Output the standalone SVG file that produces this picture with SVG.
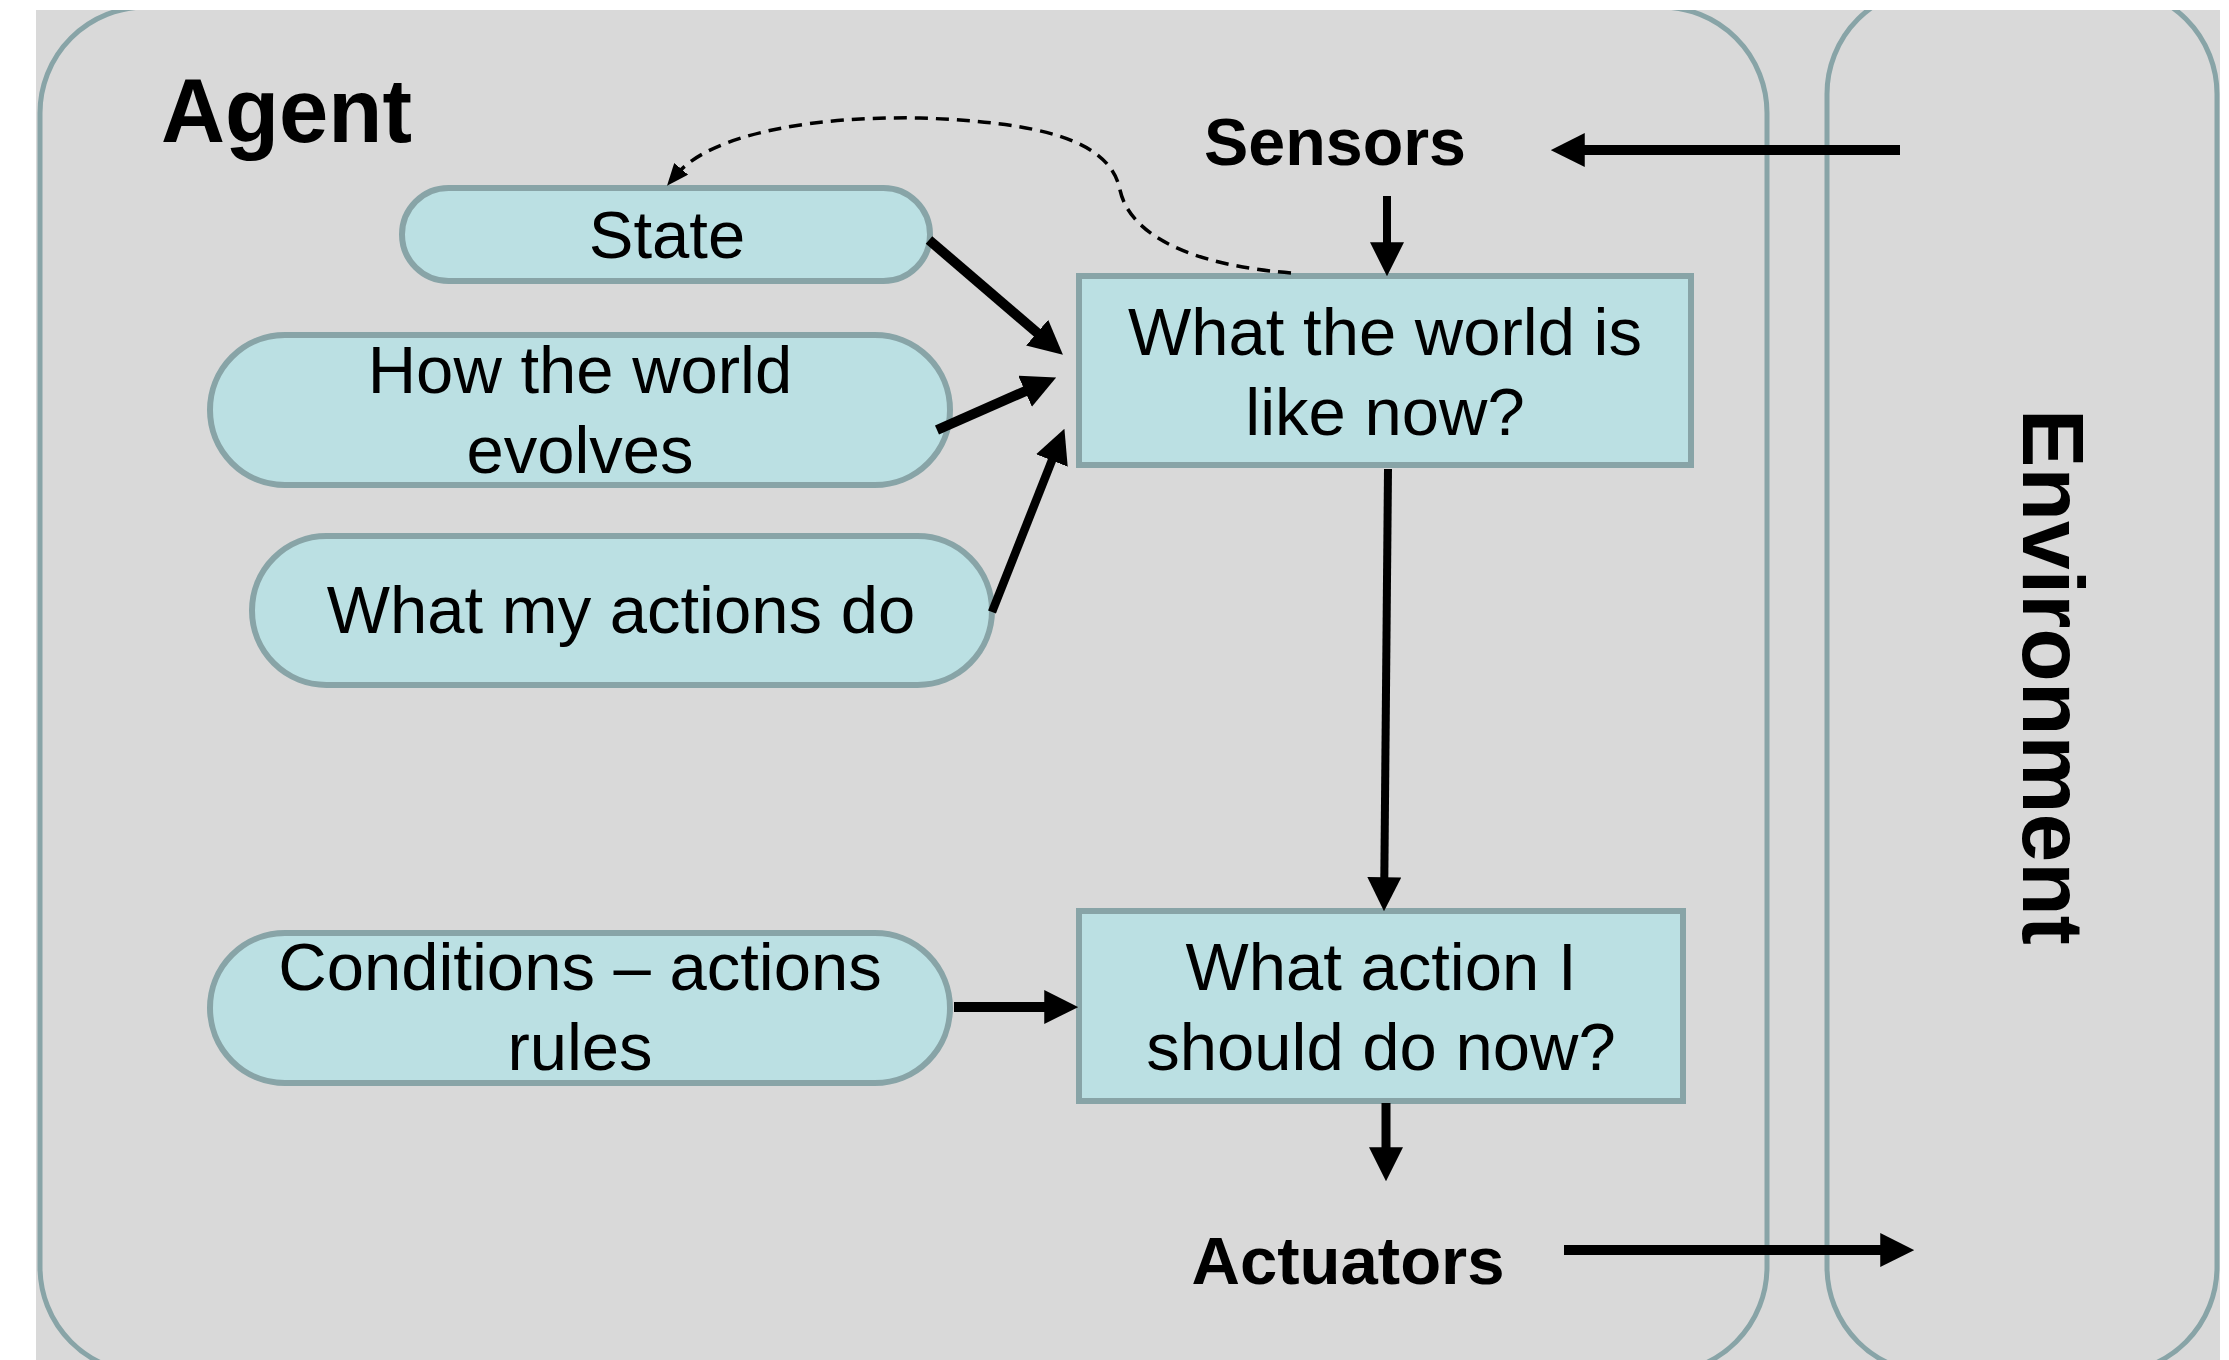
<svg xmlns="http://www.w3.org/2000/svg" width="2229" height="1360" viewBox="0 0 2229 1360">
  <style>
    .frame { fill: none; stroke: #88a4a7; stroke-width: 5; }
    .pill, .box { fill: #bbe0e3; stroke: #88a4a7; stroke-width: 6; }
    .lbl { font-family: "Liberation Sans", Arial, sans-serif; font-size: 67px; fill: #000; text-anchor: middle; }
    .title { font-family: "Liberation Sans", Arial, sans-serif; font-weight: bold; fill: #000; }
    .arrow { fill: none; stroke: #000; marker-end: url(#head); }
    .dash { fill: none; stroke: #000; stroke-width: 3.5; stroke-dasharray: 13 8; marker-end: url(#headSmall); }
  </style>
  <defs>
    <clipPath id="page">
      <rect x="36" y="10" width="2184" height="1350"/>
    </clipPath>
    <marker id="head" markerUnits="userSpaceOnUse" markerWidth="34" markerHeight="34" viewBox="0 0 32 32" refX="12" refY="16" orient="auto">
      <path d="M0,0 L32,16 L0,32 z" fill="#000"/>
    </marker>
    <marker id="headSmall" markerUnits="userSpaceOnUse" markerWidth="22" markerHeight="18" viewBox="0 0 22 18" refX="8" refY="9" orient="auto">
      <path d="M0,0 L22,9 L0,18 z" fill="#000"/>
    </marker>
  </defs>

  <rect width="2229" height="1360" fill="#ffffff"/>

  <g clip-path="url(#page)">
    <rect x="36" y="10" width="2184" height="1350" fill="#d9d9d9"/>

    <!-- agent and environment frames -->
    <g id="agent">
      <rect class="frame" x="40" y="7" width="1727" height="1366" rx="106" ry="106"/>
      <text class="title" x="161" y="142" font-size="90" textLength="251" lengthAdjust="spacingAndGlyphs">Agent</text>
    </g>
    <g id="environment">
      <rect class="frame" x="1827" y="-12" width="390" height="1385" rx="106" ry="106"/>
      <text class="title" transform="translate(2023,677) rotate(90)" x="0" y="0" font-size="88" text-anchor="middle" textLength="536" lengthAdjust="spacingAndGlyphs">Environment</text>
    </g>

    <g id="sensors">
      <text class="title" x="1335" y="165" font-size="67" text-anchor="middle" textLength="262" lengthAdjust="spacingAndGlyphs">Sensors</text>
    </g>
    <g id="actuators">
      <text class="title" x="1348" y="1284" font-size="67" text-anchor="middle" textLength="313" lengthAdjust="spacingAndGlyphs">Actuators</text>
    </g>

    <!-- model knowledge -->
    <g id="state">
      <rect class="pill" x="402" y="188" width="528" height="93" rx="46.5" ry="46.5"/>
      <text class="lbl" x="667" y="258">State</text>
    </g>
    <g id="world-evolves">
      <rect class="pill" x="210" y="335" width="740" height="150" rx="75" ry="75"/>
      <text class="lbl" x="580" y="393">How the world</text>
      <text class="lbl" x="580" y="473">evolves</text>
    </g>
    <g id="my-actions">
      <rect class="pill" x="252" y="536" width="740" height="149" rx="74.5" ry="74.5"/>
      <text class="lbl" x="621" y="633">What my actions do</text>
    </g>
    <g id="rules">
      <rect class="pill" x="210" y="933" width="740" height="150" rx="75" ry="75"/>
      <text class="lbl" x="580" y="990">Conditions – actions</text>
      <text class="lbl" x="580" y="1070">rules</text>
    </g>

    <!-- decision boxes -->
    <g id="world-now">
      <rect class="box" x="1079" y="276" width="612" height="189"/>
      <text class="lbl" x="1385" y="355">What the world is</text>
      <text class="lbl" x="1385" y="435">like now?</text>
    </g>
    <g id="action-now">
      <rect class="box" x="1079" y="911" width="604" height="190"/>
      <text class="lbl" x="1381" y="990">What action I</text>
      <text class="lbl" x="1381" y="1070">should do now?</text>
    </g>

    <!-- connectors -->
    <g id="connectors">
      <path class="arrow" stroke-width="10" d="M1900,150 L1572,150"/>
      <path class="arrow" stroke-width="8" d="M1387,196 L1387,255"/>
      <path class="arrow" stroke-width="10" d="M929,240 L1046.8,341"/>
      <path class="arrow" stroke-width="10" d="M937,430 L1036.7,386.1"/>
      <path class="arrow" stroke-width="8.5" d="M992,612 L1056.6,448.6"/>
      <path class="arrow" stroke-width="8" d="M1388,469 L1384.2,890"/>
      <path class="arrow" stroke-width="10" d="M954,1007 L1057,1007"/>
      <path class="arrow" stroke-width="9" d="M1386,1103 L1386,1160"/>
      <path class="arrow" stroke-width="10" d="M1564,1250 L1893,1250"/>
      <path class="dash" d="M1291,273 C1190,265 1130,235 1120,190 C1110,140 1040,122 920,118 C820,116 712,132 676,175"/>
    </g>
  </g>
</svg>
